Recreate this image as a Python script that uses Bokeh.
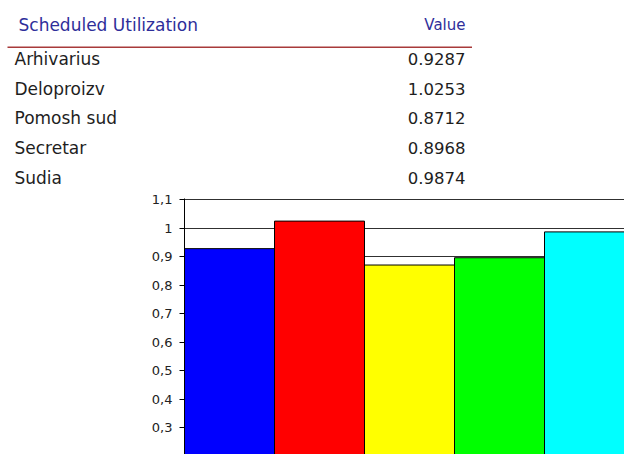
from bokeh.plotting import figure
from bokeh.models import Range1d, FixedTicker, ColumnDataSource
from bokeh.core.properties import value
from bokeh.embed import file_html
from bokeh.resources import INLINE

# ---- data ----
categories = ["Arhivarius", "Deloproizv", "Pomosh sud", "Secretar", "Sudia"]
values = [0.9287, 1.0253, 0.8712, 0.8968, 0.9874]
bar_colors = ["#0000ff", "#ff0000", "#ffff00", "#00ff00", "#00ffff"]
header_left = "Scheduled Utilization"
header_right = "Value"
tick_values = [0.2, 0.3, 0.4, 0.5, 0.6, 0.7, 0.8, 0.9, 1.0, 1.1]
tick_labels = ["0,2", "0,3", "0,4", "0,5", "0,6", "0,7", "0,8", "0,9", "1", "1,1"]

FONT = "DejaVu Sans"
W, H = 624, 454
LEFT, TOP = 184, 198
PX_X = 90.0     # pixels per category
PX_Y = 285.0    # pixels per 1.0 of value
X0 = -0.5
X1 = X0 + (W - LEFT) / PX_X
Y1 = 1.1046
Y0 = Y1 - (H - TOP) / PX_Y


def fx(px):
    return X0 + (px - LEFT) / PX_X


def fy(py):
    return Y1 + (TOP - py) / PX_Y


p = figure(width=W, height=H, x_range=Range1d(X0, X1), y_range=Range1d(Y0, Y1),
           output_backend="svg", toolbar_location=None, x_axis_location=None,
           min_border_left=LEFT, min_border_right=0, min_border_top=TOP, min_border_bottom=0,
           outline_line_color=None)
p.xgrid.visible = False
p.ygrid.grid_line_color = "#303030"
p.ygrid.grid_line_width = 1

bsrc = ColumnDataSource(dict(x=list(range(len(categories))), top=values, color=bar_colors))
p.vbar(x="x", top="top", bottom=0, width=1.0, source=bsrc, fill_color="color",
       line_color="#000000", line_width=1)

ax = p.yaxis[0]
ax.ticker = FixedTicker(ticks=tick_values)
ax.major_label_overrides = {v: l for v, l in zip(tick_values, tick_labels)}
ax.minor_tick_line_color = None
ax.major_tick_in = 0
ax.major_tick_out = 5
ax.major_label_standoff = 7
ax.axis_line_color = "#000000"
ax.major_tick_line_color = "#000000"
ax.major_label_text_font = FONT
ax.major_label_text_font_size = "13px"
ax.major_label_text_color = "#222222"

# ---- table above the chart ----
label_x = 14
value_x = 465
header_x = 18
header_y = 24
rule_y = 46.7
row0 = 58.3
row_h = 29.75

p.text(x=[fx(header_x)], y=[fy(header_y)], text=[header_left], text_font=value(FONT),
       text_font_size="17px", text_color="#2e2e9a", text_baseline="middle",
       text_align="left", level="overlay")
p.text(x=[fx(value_x)], y=[fy(header_y)], text=[header_right], text_font=value(FONT),
       text_font_size="15px", text_color="#2e2e9a", text_baseline="middle",
       text_align="right", level="overlay")

p.segment(x0=[fx(7)], y0=[fy(rule_y)], x1=[fx(471.5)], y1=[fy(rule_y)],
          line_color="#a83a3a", line_width=1.6, level="overlay")

n = len(categories)
row_y = [fy(row0 + i * row_h) for i in range(n)]
tsrc = ColumnDataSource(dict(lab=categories, val=[f"{v:.4f}" for v in values], y=row_y,
                             lx=[fx(label_x)] * n, vx=[fx(value_x)] * n))
p.text(x="lx", y="y", text="lab", source=tsrc, text_font=value(FONT), text_font_size="17px",
       text_color="#1e1e1e", text_baseline="middle", text_align="left", level="overlay")
p.text(x="vx", y="y", text="val", source=tsrc, text_font=value(FONT), text_font_size="16.5px",
       text_color="#1e1e1e", text_baseline="middle", text_align="right", level="overlay")

open("out.html", "w").write(file_html(p, INLINE))
